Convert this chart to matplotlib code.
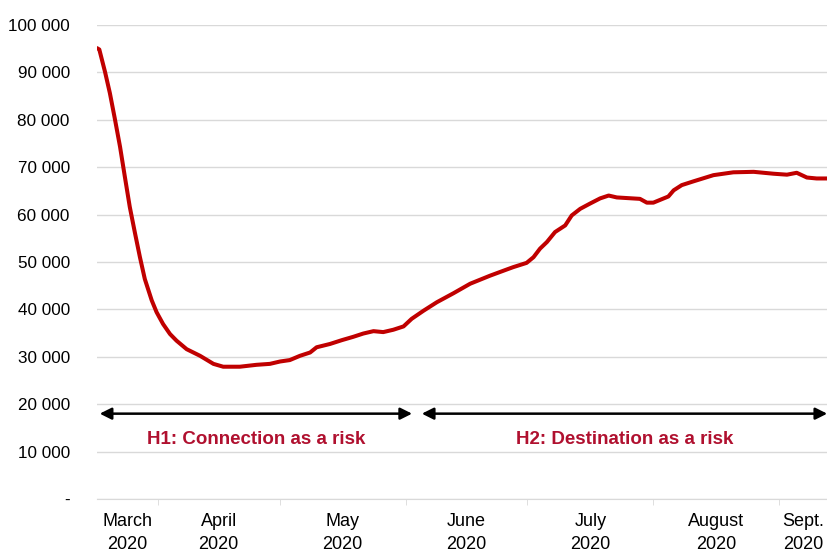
import matplotlib
matplotlib.use('Agg')
import matplotlib.pyplot as plt

plt.rcParams['font.family'] = ['Liberation Sans', 'DejaVu Sans']

# days since 1 March 2020
days = [16.0, 16.6, 18.0, 19.2, 20.4, 21.7, 22.9, 24.1, 25.4, 26.6,
        27.8, 29.5, 30.7, 32.3, 34.0, 35.6, 38.1, 41.4, 44.7, 47.1,
        51.2, 55.3, 58.6, 61.1, 63.5, 66.0, 68.5, 70.1, 73.4, 76.3,
        79.1, 81.6, 84.1, 86.5, 89.0, 91.5, 93.5, 96.4, 99.7, 103.8,
        107.9, 112.8, 116.9, 118.5, 121.8, 123.5, 125.1, 126.8, 128.8, 131.3,
        132.9, 135.0, 137.4, 139.9, 142.0, 144.0, 149.7, 151.4, 153.0, 156.7,
        158.0, 160.0, 162.9, 167.8, 172.7, 177.7, 182.6, 185.9, 188.3, 190.8,
        193.2, 196.0]
values = [95100, 94800, 90100, 85600, 80300, 74300, 67900, 61600, 56000, 51000,
          46400, 41900, 39400, 36900, 34800, 33400, 31600, 30200, 28500, 27900,
          27900, 28300, 28500, 29000, 29300, 30200, 30900, 32000, 32700, 33500,
          34200, 34900, 35400, 35200, 35700, 36400, 38000, 39700, 41500, 43400,
          45400, 47100, 48400, 48900, 49800, 51000, 52800, 54200, 56300, 57700,
          59800, 61200, 62300, 63400, 64000, 63600, 63300, 62500, 62500, 63800,
          65100, 66200, 67000, 68300, 68900, 69000, 68600, 68400, 68800, 67800,
          67600, 67600]

month_starts = [31, 61, 92, 122, 153, 184]
month_labels = ['March\n2020', 'April\n2020', 'May\n2020', 'June\n2020',
                'July\n2020', 'August\n2020', 'Sept.\n2020']

y_ticks = list(range(0, 100001, 10000))
y_labels = ['-'] + [f'{v:,}'.replace(',', ' ') for v in y_ticks[1:]]

red = '#c00000'
label_red = '#b0102f'

fig = plt.figure(figsize=(8.28, 5.52), dpi=100)
ax = fig.add_axes([0.117, 0.096, 0.883, 0.859])

ax.plot(days, values, color=red, lw=2.9, solid_capstyle='round',
        solid_joinstyle='round', zorder=3)

ax.set_xlim(days[0], days[-1])
ax.set_ylim(0, 100000)

ax.set_yticks(y_ticks)
ax.set_yticklabels(y_labels, fontsize=12.3)
ax.tick_params(axis='y', length=0, pad=19.5)
ax.grid(axis='y', color='#d9d9d9', lw=1)
ax.set_axisbelow(True)

# month boundaries as minor ticks, labels centred in each visible month
edges = [days[0]] + month_starts + [days[-1]]
mids = [(a + b) / 2 for a, b in zip(edges[:-1], edges[1:])]
ax.set_xticks(mids)
ax.set_xticklabels(month_labels, fontsize=13, linespacing=1.45)
ax.set_xticks(month_starts, minor=True)
ax.tick_params(axis='x', which='major', length=0, pad=10)
ax.tick_params(axis='x', which='minor', length=4, color='#d9d9d9')

for s in ['top', 'right', 'left']:
    ax.spines[s].set_visible(False)
ax.spines['bottom'].set_color('#d9d9d9')

# hypothesis periods
arrow_kw = dict(arrowstyle='<|-|>,head_length=0.7,head_width=0.35',
                color='black', lw=1.8, shrinkA=0, shrinkB=0)
ax.annotate('', xy=(16.7, 18000), xytext=(93.6, 18000), arrowprops=arrow_kw)
ax.annotate('', xy=(96.0, 18000), xytext=(195.8, 18000), arrowprops=arrow_kw,
            annotation_clip=False)
ax.text(55.2, 12600, 'H1: Connection as a risk', color=label_red,
        fontsize=13.5, fontweight='bold', ha='center', va='center')
ax.text(145.9, 12600, 'H2: Destination as a risk', color=label_red,
        fontsize=13.5, fontweight='bold', ha='center', va='center')

fig.savefig('out.png', dpi=100)
